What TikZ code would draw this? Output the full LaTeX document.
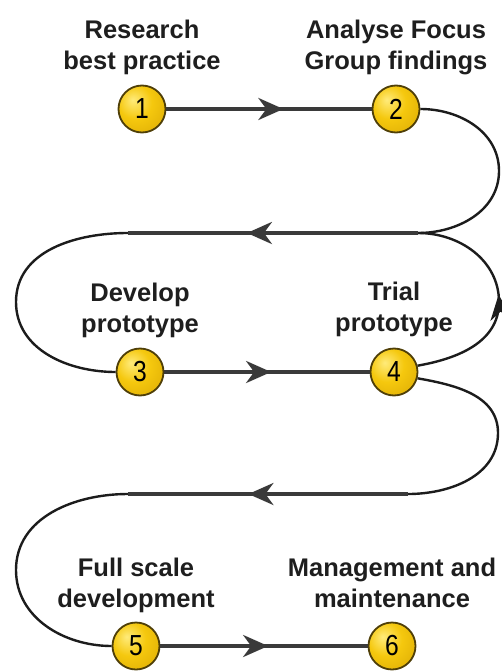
\documentclass[tikz,border=0pt]{standalone}
\usepackage{fontspec}
\usepackage{xcolor}
\usepackage{tikz}
\usetikzlibrary{positioning,arrows.meta,decorations.markings}
\newfontfamily\stagefont{Liberation Sans}
\newfontfamily\digitfont{Liberation Sans}[FakeStretch=0.85]
\definecolor{railgray}{HTML}{3A3A3A}
\definecolor{swingblack}{HTML}{1C1C1C}
\definecolor{ink}{HTML}{1E1E1E}
\definecolor{rim}{HTML}{4F3F08}
\definecolor{goldhi}{HTML}{FFEB7A}
\definecolor{goldmid}{HTML}{F5C80E}
\definecolor{golddk}{HTML}{D29F00}
\pgfdeclareradialshading{knob}{\pgfpoint{-10bp}{10bp}}{color(0bp)=(goldhi); color(18bp)=(goldmid); color(50bp)=(golddk); color(70bp)=(golddk)}

\begin{document}
\begin{tikzpicture}[
  x=1pt, y=-1pt,
  >={Stealth[length=25pt,width=22pt,inset=8pt]},
  stage/.style={circle, minimum size=47pt, inner sep=0pt, draw=rim, line width=1.8pt,
      shading=knob, font=\digitfont\fontsize{29}{29}\selectfont},
  caption/.style={align=center, inner sep=0pt, text=ink, execute at end node=\strut,
      font=\stagefont\bfseries\fontsize{25.5}{31}\selectfont},
  rail/.style={draw, color=railgray, line width=3.8pt},
  swing/.style={draw, color=swingblack, line width=2.4pt},
  fwd/.style={postaction={decorate}, decoration={markings, mark=at position #1 with {\arrow{>}}}},
]
\useasboundingbox (0,0) rectangle (501,671);

\node[stage] (c1) at (142,109) {1};
\node[stage] (c2) at (396,109) {2};
\node[stage] (c3) at (140,372) {3};
\node[stage] (c4) at (394,372) {4};
\node[stage] (c5) at (136,646) {5};
\node[stage] (c6) at (392,646) {6};

\node[caption, above=6pt of c1] (t1) {Research\\best practice};
\node[caption, above=6pt of c2] (t2) {Analyse Focus\\Group findings};
\node[caption, above=6pt of c3] (t3) {Develop\\prototype};
\node[caption, above=7pt of c4] (t4) {Trial\\prototype};
\node[caption, above=5pt of c5] (t5) {Full scale\\development};
\node[caption, above=5pt of c6] (t6) {Management and\\maintenance};

\coordinate (j1) at (418,233);
\coordinate (l1) at (128,233);
\coordinate (r1) at (499,171);
\coordinate (r2) at (499,302);
\coordinate (f1) at (16,302);
\coordinate (j2) at (408,494);
\coordinate (l2) at (128,494);
\coordinate (r3) at (498,433);
\coordinate (f2) at (16,570);

\draw[rail, fwd=0.57] (c1) -- (c2);
\draw[swing] (c2.east) to[out=0,in=90] (r1) to[out=-90,in=0] (j1);
\draw[swing, fwd=0.52] (c4.15) to[out=10,in=-90] (r2) to[out=90,in=0] (j1);
\draw[rail, fwd=0.59] (j1) -- (l1);
\draw[swing] (l1) to[out=180,in=90] (f1) to[out=-90,in=180] (c3.west);
\draw[rail, fwd=0.52] (c3) -- (c4);
\draw[swing] (c4.-15) to[out=-10,in=90] (r3) to[out=-90,in=0] (j2);
\draw[rail, fwd=0.57] (j2) -- (l2);
\draw[swing] (l2) to[out=180,in=90] (f2) to[out=-90,in=180] (c5.west);
\draw[rail, fwd=0.52] (c5) -- (c6);
\end{tikzpicture}
\end{document}
